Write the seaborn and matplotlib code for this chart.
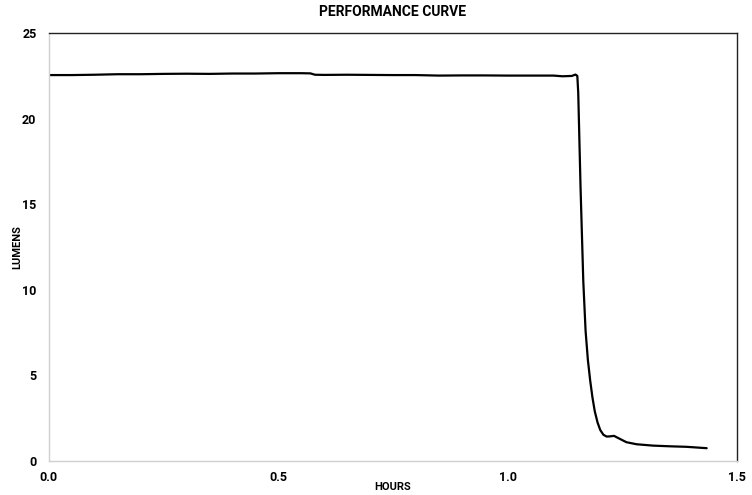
import matplotlib
matplotlib.use('Agg')
import matplotlib.pyplot as plt
import numpy as np
import pandas as pd
import seaborn as sns

# Readings taken off the performance curve
hours = [0.0, 0.05, 0.1, 0.15, 0.2, 0.25, 0.3, 0.35, 0.4, 0.45, 0.5, 0.55, 0.57,
         0.58, 0.6, 0.65, 0.7, 0.75, 0.8, 0.85, 0.9, 0.95, 1.0, 1.05, 1.1, 1.12,
         1.14, 1.148, 1.152, 1.154, 1.159, 1.165, 1.17, 1.175, 1.18, 1.185,
         1.19, 1.196, 1.202, 1.209, 1.216, 1.223, 1.232, 1.245, 1.259, 1.281,
         1.317, 1.354, 1.39, 1.434]
lumens = [22.55, 22.55, 22.57, 22.6, 22.6, 22.62, 22.63, 22.62, 22.64, 22.64, 22.66,
          22.66, 22.65, 22.57, 22.56, 22.57, 22.56, 22.55, 22.55, 22.52, 22.53,
          22.53, 22.52, 22.52, 22.52, 22.48, 22.5, 22.58, 22.5, 21.5, 16.0, 10.5,
          7.6, 5.9, 4.7, 3.7, 2.9, 2.25, 1.8, 1.52, 1.42, 1.43, 1.46, 1.28,
          1.09, 0.97, 0.89, 0.85, 0.82, 0.74]
x_ticks = [0.0, 0.5, 1.0, 1.5]
y_ticks = [0, 5, 10, 15, 20, 25]

df = pd.DataFrame({'HOURS': hours, 'LUMENS': lumens})

sns.set_style('white')
plt.rcParams['font.family'] = ['Roboto', 'DejaVu Sans']
plt.rcParams['text.color'] = 'black'
plt.rcParams['axes.labelcolor'] = 'black'
plt.rcParams['xtick.color'] = 'black'
plt.rcParams['ytick.color'] = 'black'

fig = plt.figure(figsize=(7.52, 4.95), dpi=100)
ax = fig.add_axes([0.065, 0.069, 0.915, 0.864])
sns.lineplot(data=df, x='HOURS', y='LUMENS', color='black', linewidth=1.6, ax=ax)

ax.set_xlim(0, 1.5)
ax.set_ylim(0, 25)
ax.set_xticks(x_ticks)
ax.set_xticklabels(['%.1f' % t for t in x_ticks], fontsize=9, fontweight='bold')
ax.set_yticks(y_ticks)
ax.set_yticklabels([str(t) for t in y_ticks], fontsize=9, fontweight='bold')
ax.tick_params(axis='x', length=0, pad=7)
ax.tick_params(axis='y', length=0, pad=9)

ax.set_title('PERFORMANCE CURVE', fontsize=10, fontweight='bold', pad=12)
ax.set_xlabel('HOURS', fontsize=8, fontweight='bold')
ax.set_ylabel('LUMENS', fontsize=8, fontweight='bold')
ax.xaxis.set_label_coords(0.5, -0.05)
ax.yaxis.set_label_coords(-0.038, 0.5)

# Top/right borders dark, left/bottom light grey
for side in ['top', 'right']:
    ax.spines[side].set_color('#222222')
    ax.spines[side].set_linewidth(1.0)
for side in ['left', 'bottom']:
    ax.spines[side].set_color('#d0d0d0')
    ax.spines[side].set_linewidth(1.0)

fig.savefig('out.png', dpi=100)
